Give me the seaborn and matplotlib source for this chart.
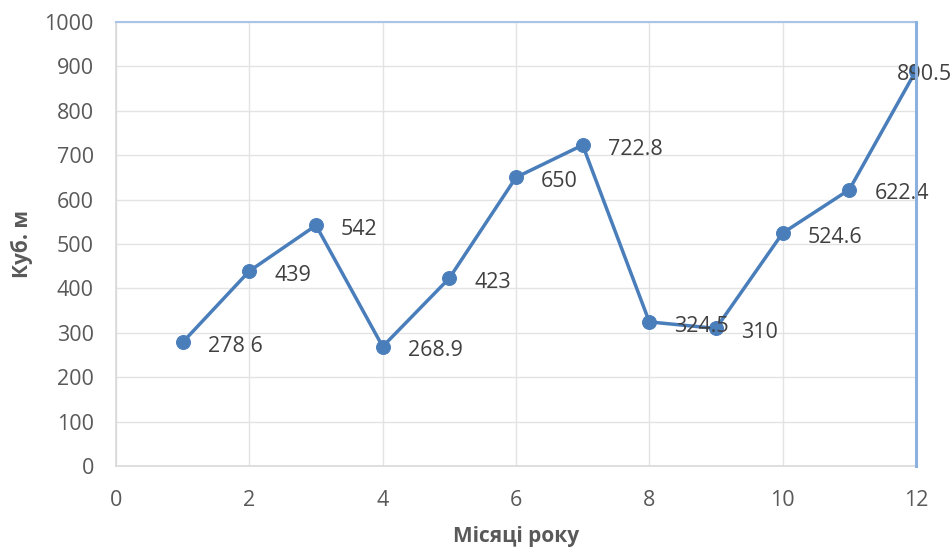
import matplotlib
matplotlib.use("Agg")
import matplotlib.pyplot as plt
import seaborn as sns
import pandas as pd

months = [1, 2, 3, 4, 5, 6, 7, 8, 9, 10, 11, 12]
volumes = [278.6, 439, 542, 268.9, 423, 650, 722.8, 324.5, 310, 524.6, 622.4, 890.5]
point_labels = ["278 6", "439", "542", "268.9", "423", "650", "722.8", "324.5", "310", "524.6", "622.4", "890.5"]
x_ticks = [0, 2, 4, 6, 8, 10, 12]
y_ticks = [0, 100, 200, 300, 400, 500, 600, 700, 800, 900, 1000]

df = pd.DataFrame({"Місяць": months, "Обсяг": volumes})

sns.set_theme(style="white")
plt.rcParams["font.family"] = ["Open Sans", "DejaVu Sans"]

text_color = "#595959"
line_color = "#4A7EBB"
grid_color = "#E3E3E3"

fig = plt.figure(figsize=(9.52, 5.51), dpi=100)
ax = fig.add_axes([116 / 952, 1 - 466 / 551, 800 / 952, 444 / 551])

sns.lineplot(data=df, x="Місяць", y="Обсяг", ax=ax, color=line_color,
             linewidth=2.5, marker="o", markersize=10, markeredgecolor=line_color,
             markerfacecolor=line_color, zorder=3)

for i, (x, y, lab) in enumerate(zip(months, volumes, point_labels)):
    # the last label would run off the figure, so it sits over its point
    dx = -14 if i == len(months) - 1 else 18
    ax.annotate(lab, (x, y), xytext=(dx, -3), textcoords="offset points",
                ha="left", va="center", fontsize=15.5, color="#404040",
                annotation_clip=False, zorder=4)

ax.set_xlim(0, 12)
ax.set_ylim(0, 1000)
ax.set_xticks(x_ticks)
ax.set_yticks(y_ticks)
ax.grid(True, color=grid_color, linewidth=1)
ax.set_axisbelow(True)
ax.tick_params(axis="both", length=0, labelsize=15.5, labelcolor=text_color)
ax.tick_params(axis="y", pad=16)
ax.tick_params(axis="x", pad=17)

for side in ["left", "bottom"]:
    ax.spines[side].set_color("#D9D9D9")
    ax.spines[side].set_linewidth(1.2)
ax.spines["top"].set_color("#A9C4E6")
ax.spines["top"].set_linewidth(1.5)
ax.spines["right"].set_color("#8DB1DE")
ax.spines["right"].set_linewidth(2.2)
ax.spines["right"].set_zorder(6)

ax.set_xlabel("Місяці року", fontsize=15, fontweight="bold", color=text_color, labelpad=11)
ax.set_ylabel("Куб. м", fontsize=15, fontweight="bold", color=text_color, labelpad=8)

fig.savefig("out.png", dpi=100)
